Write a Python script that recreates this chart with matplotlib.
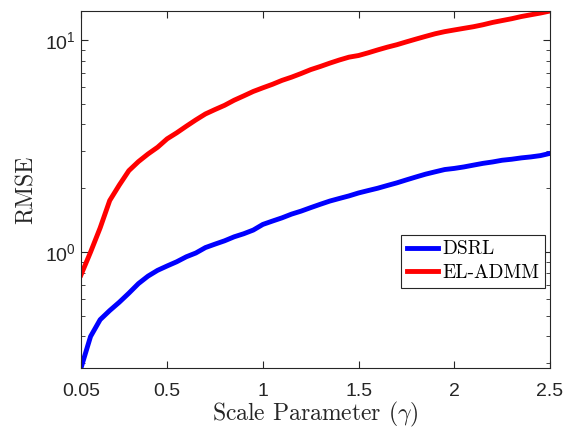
import matplotlib
matplotlib.use("Agg")
import matplotlib.pyplot as plt
import numpy as np
from matplotlib.ticker import LogLocator, FixedLocator, NullFormatter

gamma = [0.05, 0.10, 0.15, 0.20, 0.25, 0.30, 0.35, 0.40, 0.45, 0.50,
         0.55, 0.60, 0.65, 0.70, 0.75, 0.80, 0.85, 0.90, 0.95, 1.00,
         1.05, 1.10, 1.15, 1.20, 1.25, 1.30, 1.35, 1.40, 1.45, 1.50,
         1.55, 1.60, 1.65, 1.70, 1.75, 1.80, 1.85, 1.90, 1.95, 2.00,
         2.05, 2.10, 2.15, 2.20, 2.25, 2.30, 2.35, 2.40, 2.45, 2.50]

dsrl = [0.284, 0.40, 0.48, 0.53, 0.58, 0.64, 0.71, 0.77, 0.82, 0.86,
        0.90, 0.95, 0.99, 1.05, 1.09, 1.13, 1.18, 1.22, 1.27, 1.35,
        1.40, 1.45, 1.51, 1.56, 1.62, 1.68, 1.74, 1.79, 1.84, 1.90,
        1.95, 2.00, 2.06, 2.12, 2.19, 2.26, 2.33, 2.39, 2.45, 2.48,
        2.52, 2.57, 2.62, 2.66, 2.71, 2.74, 2.78, 2.81, 2.85, 2.92]

el_admm = [0.78, 1.00, 1.30, 1.75, 2.07, 2.42, 2.67, 2.90, 3.12, 3.42,
           3.65, 3.92, 4.20, 4.48, 4.70, 4.92, 5.20, 5.45, 5.72, 5.95,
           6.18, 6.45, 6.68, 6.95, 7.25, 7.50, 7.78, 8.05, 8.30, 8.45,
           8.70, 8.98, 9.25, 9.50, 9.80, 10.10, 10.40, 10.70, 10.95, 11.15,
           11.35, 11.55, 11.80, 12.10, 12.35, 12.60, 12.90, 13.15, 13.40, 13.70]

series_labels = ["DSRL", "EL-ADMM"]
xticks = [0.05, 0.5, 1, 1.5, 2, 2.5]
xticklabels = ["0.05", "0.5", "1", "1.5", "2", "2.5"]

plt.rcParams['mathtext.fontset'] = 'custom'
plt.rcParams['mathtext.rm'] = 'Liberation Sans'
plt.rcParams['mathtext.it'] = 'Liberation Sans:italic'
plt.rcParams['mathtext.bf'] = 'Liberation Sans:bold'
plt.rcParams['font.family'] = ['Liberation Sans', 'DejaVu Sans']

fig = plt.figure(figsize=(5.7, 4.28), dpi=100)
ax = fig.add_axes([81/570, 1 - 368/428, (550 - 81)/570, (368 - 11)/428])

ax.plot(gamma, dsrl, color=(0, 0, 1), lw=3.5, label=series_labels[0])
ax.plot(gamma, el_admm, color=(1, 0, 0), lw=3.5, label=series_labels[1])

ax.set_yscale('log')
ax.set_xlim(0.05, 2.5)
ax.set_ylim(0.284, 13.7)
ax.xaxis.set_major_locator(FixedLocator(xticks))
ax.set_xticklabels(xticklabels)
ax.yaxis.set_major_locator(LogLocator(base=10, numticks=10))
ax.yaxis.set_minor_locator(LogLocator(base=10, subs=np.arange(2, 10), numticks=20))
ax.yaxis.set_minor_formatter(NullFormatter())

tc = '#262626'
for s in ax.spines.values():
    s.set_color(tc)
    s.set_linewidth(0.8)
ax.tick_params(which='both', direction='in', top=True, right=True, color=tc,
               labelcolor=tc, labelsize=14)
ax.tick_params(which='major', length=5, width=0.8)
ax.tick_params(which='minor', length=3, width=0.6)
ax.tick_params(axis='x', pad=11)
ax.tick_params(axis='y', pad=4)

ax.set_xlabel(r"Scale Parameter ($\gamma$)", family='cmr10', math_fontfamily='cm',
              fontsize=17, color=tc, labelpad=0)
ax.set_ylabel("RMSE", family='cmr10', fontsize=17, color=tc, labelpad=5)

leg = ax.legend(loc='upper left', bbox_to_anchor=((400.7 - 81)/469, 1 - (234.7 - 11)/357),
                prop={'family': 'cmr10', 'size': 14}, frameon=True, fancybox=False,
                edgecolor=tc, framealpha=1, handlelength=1.6, handletextpad=0.25,
                borderpad=0.3, labelspacing=0.3, borderaxespad=0.0)
leg.get_frame().set_linewidth(0.8)

fig.savefig("out.png", dpi=100)
